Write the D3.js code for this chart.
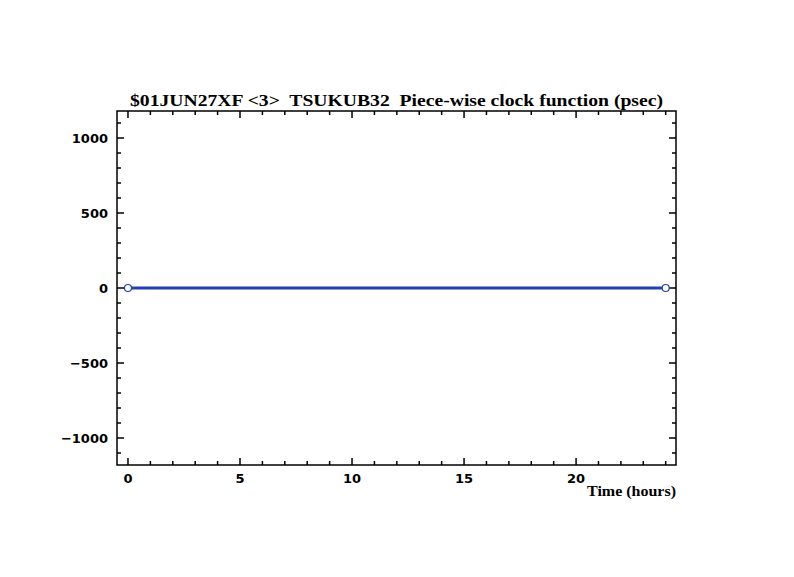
<!DOCTYPE html>
<html>
<head>
<meta charset="utf-8">
<script src="https://cdn.jsdelivr.net/npm/d3@7"></script>
<style>
  body { margin: 0; background: #fff; }
  svg { display: block; }
  text { white-space: pre; }
</style>
</head>
<body>
<svg id="chart" width="794" height="577"></svg>
<script>
// data
const times = [0, 24];          // hours
const clock = [0, 0];           // psec
const xTicks = [0, 5, 10, 15, 20];
const yTicks = [-1000, -500, 0, 500, 1000];
const title = "$01JUN27XF <3>  TSUKUB32  Piece-wise clock function (psec)";

const svg = d3.select("#chart");
const plotLeft = 117, plotRight = 676, plotTop = 111, plotBottom = 465;

const x = d3.scaleLinear().domain([-0.49, 24.46]).range([plotLeft, plotRight]);
const y = d3.scaleLinear().domain([-1180, 1180]).range([plotBottom, plotTop]);

const ink = "#000";
const tickFont = "bold 13px 'DejaVu Sans', sans-serif";

// frame
svg.append("rect")
    .attr("x", plotLeft).attr("y", plotTop)
    .attr("width", plotRight - plotLeft).attr("height", plotBottom - plotTop)
    .attr("fill", "none").attr("stroke", ink).attr("stroke-width", 1.5);

// inward ticks on all four sides
const xMinor = d3.range(0, 25, 1);
const yMinor = d3.range(-1100, 1101, 100);

xMinor.forEach(v => {
    const len = v % 5 === 0 ? 7 : 4;
    svg.append("line").attr("x1", x(v)).attr("x2", x(v))
        .attr("y1", plotBottom).attr("y2", plotBottom - len).attr("stroke", ink).attr("stroke-width", 1.5);
    svg.append("line").attr("x1", x(v)).attr("x2", x(v))
        .attr("y1", plotTop).attr("y2", plotTop + len).attr("stroke", ink).attr("stroke-width", 1.5);
});
yMinor.forEach(v => {
    const len = v % 500 === 0 ? 7 : 4;
    svg.append("line").attr("y1", y(v)).attr("y2", y(v))
        .attr("x1", plotLeft).attr("x2", plotLeft + len).attr("stroke", ink).attr("stroke-width", 1.5);
    svg.append("line").attr("y1", y(v)).attr("y2", y(v))
        .attr("x1", plotRight).attr("x2", plotRight - len).attr("stroke", ink).attr("stroke-width", 1.5);
});

// tick labels
svg.selectAll(".xl").data(xTicks).enter().append("text")
    .attr("x", d => x(d)).attr("y", plotBottom + 18)
    .attr("text-anchor", "middle")
    .style("font", tickFont).attr("fill", ink)
    .text(d => d);

svg.selectAll(".yl").data(yTicks).enter().append("text")
    .attr("x", plotLeft - 9).attr("y", d => y(d) + 5)
    .attr("text-anchor", "end")
    .style("font", tickFont).attr("fill", ink)
    .text(d => d < 0 ? "\u2212" + Math.abs(d) : d);

// title and axis label
svg.append("text")
    .attr("x", (plotLeft + plotRight) / 2).attr("y", 106)
    .attr("text-anchor", "middle")
    .style("font", "bold 16px 'Liberation Serif', serif")
    .attr("fill", ink)
    .attr("textLength", 533).attr("lengthAdjust", "spacingAndGlyphs")
    .text(title);

svg.append("text")
    .attr("x", plotRight).attr("y", 496)
    .attr("text-anchor", "end")
    .style("font", "bold 15px 'Liberation Serif', serif")
    .attr("fill", ink)
    .attr("textLength", 89).attr("lengthAdjust", "spacingAndGlyphs")
    .text("Time (hours)");

// clock function
const pts = times.map((t, i) => [t, clock[i]]);
svg.append("path")
    .datum(pts)
    .attr("d", d3.line().x(d => x(d[0])).y(d => y(d[1])))
    .attr("fill", "none").attr("stroke", "#2341b0").attr("stroke-width", 3);

svg.selectAll(".pt").data(pts).enter().append("circle")
    .attr("cx", d => x(d[0])).attr("cy", d => y(d[1]))
    .attr("r", 3.5)
    .attr("fill", "#fff").attr("stroke", "#2341b0").attr("stroke-width", 1.2);
</script>
</body>
</html>
